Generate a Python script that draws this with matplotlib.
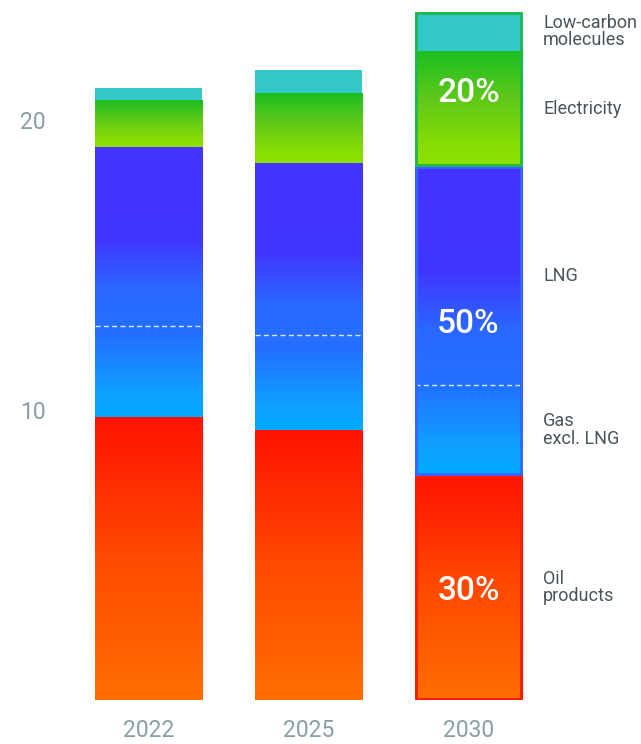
import numpy as np
import matplotlib.pyplot as plt
from matplotlib.colors import LinearSegmentedColormap
from matplotlib.patches import Rectangle

plt.rcParams['font.family'] = ['Roboto', 'DejaVu Sans']

# values
years = ['2022', '2025', '2030']
oil = [9.76, 9.31, 7.76]
gas_excl_lng = [3.14, 3.28, 3.10]
lng = [6.17, 5.93, 7.55]
electricity = [1.62, 2.41, 3.97]
low_carbon = [0.41, 0.79, 1.34]
shares_2030 = ['30%', '50%', '20%']
labels = ['Oil\nproducts', 'Gas\nexcl. LNG', 'LNG', 'Electricity', 'Low-carbon\nmolecules']

oil_cmap = LinearSegmentedColormap.from_list('oil', ['#ff6e00', '#ff4a00', '#ff1200'])
gas_cmap = LinearSegmentedColormap.from_list(
    'gas', [(0, '#00aaff'), (0.08, '#0ea2ff'), (0.3, '#2270ff'), (0.47, '#2a68ff'),
            (0.66, '#4036ff'), (1, '#4433ff')])
elec_cmap = LinearSegmentedColormap.from_list(
    'elec', [(0, '#8ee000'), (0.15, '#8ade02'), (0.6, '#5cc81a'), (1, '#1bbe22')])
lc_color = '#33c8c8'

fig = plt.figure(figsize=(6.41, 7.44), dpi=100)
ax = fig.add_axes([60 / 641, 44 / 744, 581 / 641, 700 / 744])

w = 0.67


def gradient_bar(x, y0, h, cmap):
    grad = np.linspace(0, 1, 256).reshape(-1, 1)
    ax.imshow(grad, cmap=cmap, extent=[x - w / 2, x + w / 2, y0, y0 + h],
              origin='lower', aspect='auto', interpolation='bilinear', zorder=2)


xs = np.arange(len(years))
for i, x in enumerate(xs):
    b = 0
    gradient_bar(x, b, oil[i], oil_cmap)
    b += oil[i]
    gas = gas_excl_lng[i] + lng[i]
    gradient_bar(x, b, gas, gas_cmap)
    ax.hlines(b + gas_excl_lng[i], x - w / 2, x + w / 2, colors='white',
              linestyles=(0, (3.6, 2.4)), linewidth=1, alpha=0.85, zorder=3)
    b += gas
    gradient_bar(x, b, electricity[i], elec_cmap)
    b += electricity[i]
    ax.bar(x, low_carbon[i], w, bottom=b, color=lc_color, zorder=2)

# outlined groups on the 2030 bar
x = xs[2]
groups = [
    (0, oil[2], '#ff1a00'),
    (oil[2], gas_excl_lng[2] + lng[2], '#3566ff'),
    (oil[2] + gas_excl_lng[2] + lng[2], electricity[2] + low_carbon[2], '#1fb84c'),
]
dx, dy = 0.006, 0.045
for (y0, h, c), share in zip(groups, shares_2030):
    ax.add_patch(Rectangle((x - w / 2 + dx, y0 + dy), w - 2 * dx, h - 2 * dy,
                           fill=False, edgecolor=c, linewidth=2, zorder=4))
    ax.text(x, y0 + h / 2, share, ha='center', va='center_baseline', color='white',
            fontsize=24, fontweight='medium', zorder=5)

# category labels next to the 2030 bar
seg = [oil[2], gas_excl_lng[2], lng[2], electricity[2], low_carbon[2]]
b = 0
for v, lab in zip(seg, labels):
    ax.text(2.466, b + v / 2, lab, ha='left', va='center', fontsize=13,
            color='#4a555b', linespacing=0.95, clip_on=False)
    b += v

ax.set_xlim(-88.5 / 160, (581 - 88.5) / 160)
ax.set_ylim(0, 700 / 29)
ax.set_xticks(xs, years)
ax.set_yticks([10, 20])
ax.tick_params(axis='y', length=0, pad=10, labelsize=16.5, labelcolor='#8a9ea6')
ax.tick_params(axis='x', length=0, pad=14, labelsize=16.5, labelcolor='#8a9ea6')
for s in ax.spines.values():
    s.set_visible(False)

fig.savefig('out.png', dpi=100)
